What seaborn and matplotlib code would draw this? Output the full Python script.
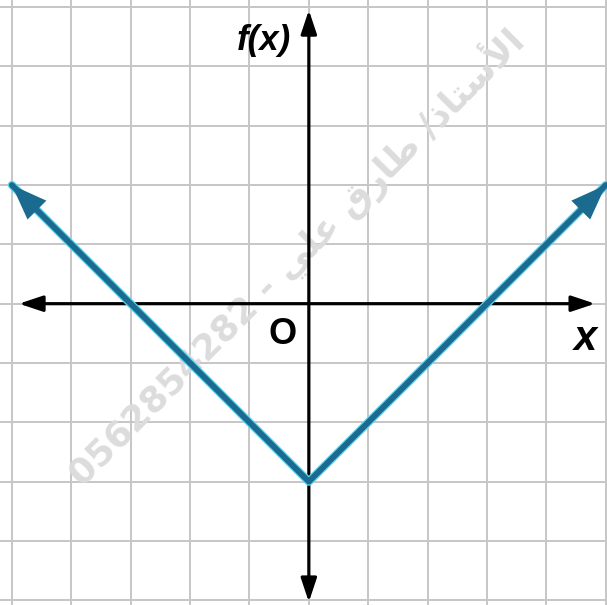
import matplotlib
matplotlib.use('Agg')
import matplotlib.pyplot as plt
import matplotlib.patheffects as pe
import seaborn as sns
import pandas as pd

# f(x) = |x| - 3, sampled at the ends and the vertex
x_values = [-5, 0, 5]
y_values = [2, -3, 2]
grid_ticks = list(range(-5, 6))

x_label = 'x'
y_label = 'f(x)'
origin_label = 'O'

# watermark, Arabic part already shaped into presentation forms (visual order)
watermark_number = '0562854282'
watermark_name = '\uFEF2\uFEE0\uFECB \uFED5\uFEAD\uFE8E\uFEC3 /\uFEAB\uFE8E\uFE98\uFEB3\uFEF7\uFE8D'


def draw_chart():
	sns.set_style('white')
	plt.rcParams['font.family'] = ['Liberation Sans', 'DejaVu Sans']
	plt.rcParams['text.color'] = 'black'

	fig = plt.figure(figsize=(6.07, 6.05), dpi=100)
	ax = fig.add_axes([0, 0, 1, 1])
	ax.set_xlim(-5.2, 5.02)
	ax.set_ylim(-5.08, 5.12)

	ax.set_xticks(grid_ticks)
	ax.set_yticks(grid_ticks)
	ax.grid(True, color='#c6c6c6', linewidth=1.4)
	ax.set_axisbelow(True)
	ax.tick_params(length=0, labelbottom=False, labelleft=False)
	for spine in ax.spines.values():
		spine.set_visible(False)

	# watermark
	ax.text(-0.22, 0.8, watermark_number + ' - ' + watermark_name,
		rotation=45, rotation_mode='anchor', ha='center', va='center',
		fontsize=26, fontweight='bold', color='#dcdcdc',
		family=['DejaVu Sans'], zorder=1)

	# axes with arrows at both ends
	axis_arrow = dict(arrowstyle='<|-|>,head_length=0.9,head_width=0.3', color='black',
		lw=2.3, mutation_scale=16, shrinkA=0, shrinkB=0)
	ax.annotate('', xy=(4.82, 0), xytext=(-4.88, 0), arrowprops=axis_arrow, zorder=3)
	ax.annotate('', xy=(0, 4.95), xytext=(0, -5.03), arrowprops=axis_arrow, zorder=3)

	# the function
	df = pd.DataFrame({'x': x_values, 'y': y_values})
	halo = [pe.Stroke(linewidth=6.0, foreground='#5fd3ee'), pe.Normal()]
	sns.lineplot(data=df, x='x', y='y', ax=ax, color='#1b6a90', lw=4.2,
		sort=False, path_effects=halo, zorder=4)
	ax.set_xlabel('')
	ax.set_ylabel('')

	line_arrow = dict(arrowstyle='-|>,head_length=0.85,head_width=0.32', color='#1b6a90',
		lw=0, mutation_scale=30, shrinkA=0, shrinkB=0)
	for end, nxt in ((0, 1), (-1, -2)):
		x0, y0 = x_values[end], y_values[end]
		x1, y1 = x_values[nxt], y_values[nxt]
		dx, dy = (x1 - x0) / abs(x1 - x0), (y1 - y0) / abs(x1 - x0)
		ax.annotate('', xy=(x0, y0), xytext=(x0 + 0.9 * dx, y0 + 0.9 * dy),
			arrowprops=line_arrow, zorder=5)

	# labels
	ax.text(-0.3, 4.43, y_label, ha='right', va='center', fontsize=25,
		fontweight='bold', fontstyle='italic', zorder=6)
	ax.text(-0.45, -0.52, origin_label, ha='center', va='center', fontsize=26,
		fontweight='bold', zorder=6)
	ax.text(4.65, -0.59, x_label, ha='center', va='center', fontsize=30,
		fontweight='bold', fontstyle='italic', zorder=6)

	fig.savefig('out.png', dpi=100, facecolor='white')


def main():
	draw_chart()


if __name__ == '__main__':
	main()
